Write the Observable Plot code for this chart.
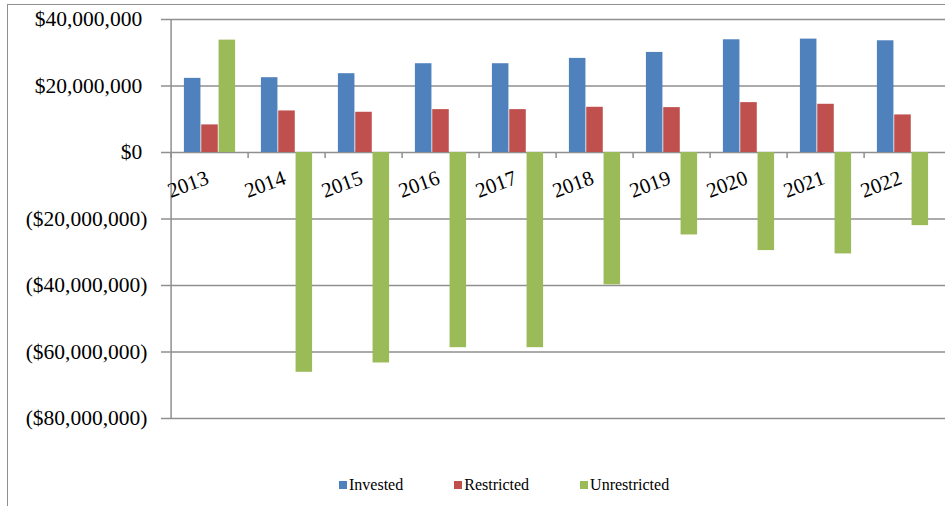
<!DOCTYPE html>
<html>
<head>
<meta charset="utf-8">
<script src="https://cdn.jsdelivr.net/npm/d3@7"></script>
<script src="https://cdn.jsdelivr.net/npm/@observablehq/plot@0.6"></script>
<style>
  html, body { margin: 0; padding: 0; background: #fff; }
  #wrap { position: relative; width: 945px; height: 506px; overflow: hidden; font-family: "Liberation Serif", "Times New Roman", serif; }
  #frame { position: absolute; left: 7px; top: 4px; width: 1200px; height: 800px; border-left: 1.5px solid #8f8f8f; border-top: 1.5px solid #8f8f8f; }
  #chart { position: absolute; left: 0; top: 0; }
  #legend { position: absolute; left: 339px; top: 476px; display: flex; gap: 51px; font-size: 16px; line-height: 17px; color: #000; }
  #legend .item { display: flex; align-items: center; }
  #legend .sw { width: 8px; height: 8px; margin-right: 2px; margin-top: 1px; }
</style>
</head>
<body>
<div id="wrap">
  <div id="frame"></div>
  <div id="chart"></div>
  <div id="legend"></div>
</div>
<script>
// ---- data (values in dollars) ----
const years = ["2013", "2014", "2015", "2016", "2017", "2018", "2019", "2020", "2021", "2022"];
const seriesNames = ["Invested", "Restricted", "Unrestricted"];
const invested = [22.3e6, 22.5e6, 23.7e6, 26.7e6, 26.7e6, 28.3e6, 30.1e6, 33.9e6, 34.1e6, 33.6e6];
const restricted = [8.3e6, 12.5e6, 12.1e6, 12.9e6, 12.9e6, 13.6e6, 13.5e6, 15.0e6, 14.5e6, 11.3e6];
const unrestricted = [33.8e6, -66.1e6, -63.3e6, -58.7e6, -58.7e6, -39.8e6, -24.8e6, -29.5e6, -30.5e6, -22.0e6];
const yTicks = [40e6, 20e6, 0, -20e6, -40e6, -60e6, -80e6];
const colors = ["#4F81BD", "#C0504D", "#9BBB59"];

const valuesBySeries = [invested, restricted, unrestricted];
const rows = [];
seriesNames.forEach((s, i) => years.forEach((y, j) => rows.push({year: y, series: s, value: valuesBySeries[i][j]})));

const fmtNum = d3.format(",");
const fmt = d => d < 0 ? `($${fmtNum(-d)})` : `$${fmtNum(d)}\u00a0`;

// layout
const W = 945, H = 440, ML = 167, MR = 0, MT = 19, MB = 22;
const bw = (W - ML - MR) / years.length;
const barW = 17.33;
const pad = (bw - 3 * barW) / 2;
const grid = "#8f8f8f";

const chart = Plot.plot({
  width: W, height: H,
  marginLeft: ML, marginRight: MR, marginTop: MT, marginBottom: MB,
  style: {fontFamily: "'Liberation Serif', 'Times New Roman', serif", background: "transparent", overflow: "visible", color: "#000"},
  x: {domain: years, padding: 0, axis: null},
  y: {domain: [-80e6, 40e6], axis: null},
  marks: [
    Plot.ruleY(yTicks, {stroke: grid, strokeWidth: 1.5}),
    ...seriesNames.map((s, i) => Plot.barY(rows.filter(r => r.series === s), {
      x: "year", y: "value", fill: colors[i],
      insetLeft: pad + i * barW, insetRight: bw - pad - (i + 1) * barW
    })),
    Plot.ruleX([years[0]], {dx: -bw / 2, stroke: grid, strokeWidth: 1.5}),
    Plot.ruleX(years, {y1: 0, y2: 0, insetTop: 0, insetBottom: -6, dx: -bw / 2, stroke: grid, strokeWidth: 1.5}),
    Plot.axisY(yTicks, {tickFormat: fmt, tickSize: 6, tickPadding: 14, stroke: grid, strokeWidth: 1.5, fontSize: 21.5, label: null}),
    Plot.text(years, {x: d => d, y: 0, text: d => d, rotate: -20, textAnchor: "end", lineAnchor: "top", dx: -5, dy: 17, fontSize: 21, fill: "#000"})
  ]
});
document.getElementById("chart").appendChild(chart);

const legend = document.getElementById("legend");
seriesNames.forEach((s, i) => {
  const item = document.createElement("div");
  item.className = "item";
  const sw = document.createElement("span");
  sw.className = "sw";
  sw.style.background = colors[i];
  const t = document.createElement("span");
  t.textContent = s;
  item.appendChild(sw);
  item.appendChild(t);
  legend.appendChild(item);
});
</script>
</body>
</html>
